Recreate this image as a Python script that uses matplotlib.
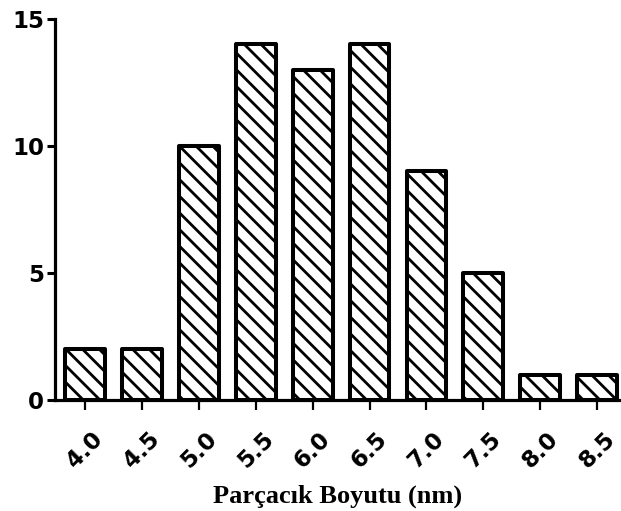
import numpy as np
import matplotlib
matplotlib.use('Agg')
import matplotlib.pyplot as plt
import matplotlib.transforms as mtransforms

sizes = ['4.0', '4.5', '5.0', '5.5', '6.0', '6.5', '7.0', '7.5', '8.0', '8.5']
counts = [2, 2, 10, 14, 13, 14, 9, 5, 1, 1]
yticks = [0, 5, 10, 15]

plt.rcParams['hatch.linewidth'] = 2.0
plt.rcParams['font.family'] = 'DejaVu Sans'

fig = plt.figure(figsize=(6.21, 5.11), dpi=100)
ax = fig.add_axes([55/621, 111/511, 1 - 55/621, (400-19)/511])

x = np.arange(len(sizes))
bars = ax.bar(x, counts, width=0.7, color='white', edgecolor='black',
              linewidth=2.9, hatch='\\\\', zorder=3)
for b in bars:
    b.set_joinstyle('round')

ax.set_xlim(-0.53, 9.42)
ax.set_ylim(0, 15)
ax.set_yticks(yticks)
ax.set_yticklabels([str(v) for v in yticks], fontsize=16.5, fontweight='bold')
ax.set_xticks(x)
ax.set_xticklabels(sizes, fontsize=16.5, fontweight='bold', rotation=45,
                   ha='center')
# nudge rotated labels a little left of their ticks
offset = mtransforms.ScaledTranslation(-18/100, 0, fig.dpi_scale_trans)
for lab in ax.get_xticklabels():
    lab.set_transform(lab.get_transform() + offset)

for s in ['top', 'right']:
    ax.spines[s].set_visible(False)
for s in ['left', 'bottom']:
    ax.spines[s].set_linewidth(2.3)

ax.tick_params(axis='y', length=6, width=2.2, pad=2)
ax.tick_params(axis='x', length=7.5, width=1.6, pad=12)

ax.set_xlabel('Parçacık Boyutu (nm)', fontsize=19, fontweight='bold',
              family='Liberation Serif', labelpad=9)

fig.savefig('out.png', dpi=100)
